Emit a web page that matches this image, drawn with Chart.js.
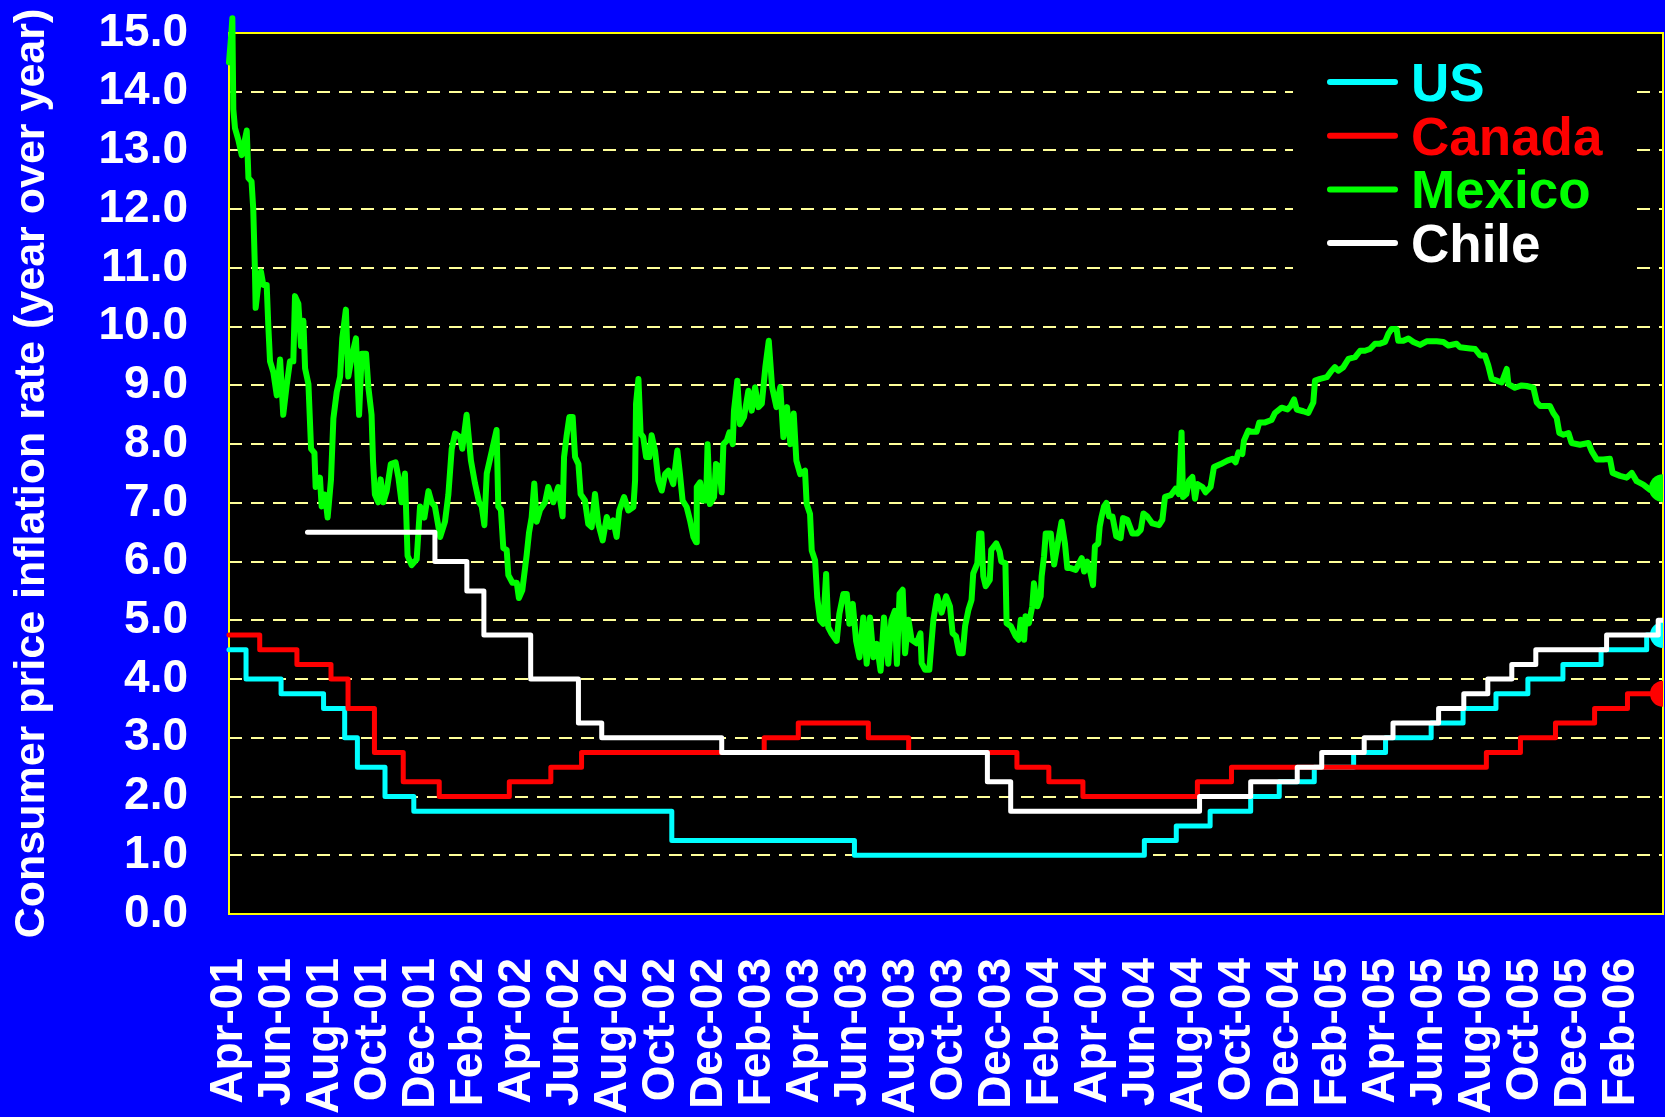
<!DOCTYPE html>
<html>
<head>
<meta charset="utf-8">
<title>Consumer price inflation</title>
<script src="https://cdn.jsdelivr.net/npm/chart.js@4/dist/chart.umd.min.js"></script>
<style>
  html, body { margin: 0; padding: 0; background: #0000FF; }
  canvas { display: block; }
</style>
</head>
<body>
<canvas id="chart" width="1665" height="1117"></canvas>
<script>
// Tick labels along the bottom, one every two months (x = months since axis start)
const tickLabels = ['Apr-01','Jun-01','Aug-01','Oct-01','Dec-01','Feb-02','Apr-02','Jun-02','Aug-02','Oct-02',
  'Dec-02','Feb-03','Apr-03','Jun-03','Aug-03','Oct-03','Dec-03','Feb-04','Apr-04','Jun-04',
  'Aug-04','Oct-04','Dec-04','Feb-05','Apr-05','Jun-05','Aug-05','Oct-05','Dec-05','Feb-06'];
const xMax = 59.75;

// US (step changes: month where the new level starts)
const usMonths = [0, 0.71, 2.17, 3.94, 4.82, 5.35, 6.5, 7.7, 18.45, 26.06, 38.14, 39.47, 40.88, 42.57, 43.76,
  45.22, 46.86, 48.19, 50.09, 51.42, 52.79, 54.12, 55.58, 57.17, 59.07, 59.75];
const usRates = [4.5, 4.0, 3.75, 3.5, 3.0, 2.5, 2.0, 1.75, 1.25, 1.0, 1.25, 1.5, 1.75, 2.0, 2.25,
  2.5, 2.75, 3.0, 3.25, 3.5, 3.75, 4.0, 4.25, 4.5, 4.75, 4.75];

// Canada
const canadaMonths = [0, 1.28, 2.83, 4.25, 4.96, 6.06, 7.26, 8.76, 11.68, 13.41, 14.69, 22.3, 23.72, 26.64,
  28.32, 32.83, 34.16, 35.58, 40.35, 41.77, 52.39, 53.81, 55.27, 56.9, 58.27, 59.75];
const canadaRates = [4.75, 4.5, 4.25, 4.0, 3.5, 2.75, 2.25, 2.0, 2.25, 2.5, 2.75, 3.0, 3.25, 3.0,
  2.75, 2.5, 2.25, 2.0, 2.25, 2.5, 2.75, 3.0, 3.25, 3.5, 3.75, 3.75];

// Chile
const chileMonths = [3.27, 8.58, 9.91, 10.62, 12.57, 14.56, 15.53, 20.53, 31.6, 32.57, 40.44, 42.57, 44.51,
  45.53, 47.3, 48.5, 50.4, 51.45, 52.45, 53.45, 54.45, 57.4, 59.55, 59.75];
const chileRates = [6.5, 6.0, 5.5, 4.75, 4.0, 3.25, 3.0, 2.75, 2.25, 1.75, 2.0, 2.25, 2.5,
  2.75, 3.0, 3.25, 3.5, 3.75, 4.0, 4.25, 4.5, 4.75, 5.0, 5.0];

// Mexico
const mexicoMonths = [0, 0.1, 0.14, 0.18, 0.25, 0.39, 0.53, 0.74, 0.81, 0.94, 1.01, 1.08, 1.11, 1.22, 1.33,
  1.43, 1.57, 1.64, 1.71, 1.85, 1.99, 2.13, 2.26, 2.4, 2.54, 2.68, 2.75, 2.89, 3.0, 3.1,
  3.17, 3.31, 3.42, 3.56, 3.61, 3.79, 3.86, 4.0, 4.11, 4.25, 4.35, 4.49, 4.63, 4.72, 4.87,
  4.97, 5.11, 5.29, 5.42, 5.53, 5.71, 5.81, 5.94, 6.0, 6.08, 6.22, 6.32, 6.43, 6.57, 6.74,
  6.94, 7.06, 7.19, 7.33, 7.44, 7.61, 7.82, 7.96, 8.14, 8.31, 8.44, 8.58, 8.8, 9.0, 9.14,
  9.28, 9.42, 9.63, 9.72, 9.9, 10.08, 10.25, 10.42, 10.53, 10.64, 10.74, 10.9, 11.15, 11.22, 11.33,
  11.43, 11.57, 11.64, 11.81, 11.99, 12.08, 12.22, 12.4, 12.5, 12.61, 12.72, 12.82, 12.96, 13.17, 13.3,
  13.51, 13.72, 13.9, 13.96, 14.07, 14.18, 14.32, 14.42, 14.56, 14.65, 14.83, 14.97, 15.11, 15.25, 15.39,
  15.57, 15.74, 15.88, 16.01, 16.15, 16.26, 16.46, 16.64, 16.85, 16.92, 16.96, 17.06, 17.15, 17.26, 17.38,
  17.51, 17.61, 17.75, 17.89, 18.03, 18.17, 18.31, 18.51, 18.68, 18.79, 18.9, 19.07, 19.21, 19.35, 19.46,
  19.49, 19.63, 19.74, 19.88, 19.94, 20.04, 20.21, 20.29, 20.43, 20.53, 20.6, 20.74, 20.85, 20.99, 21.04,
  21.18, 21.29, 21.46, 21.64, 21.78, 21.92, 22.06, 22.2, 22.35, 22.49, 22.63, 22.81, 22.97, 23.1, 23.25,
  23.39, 23.53, 23.64, 23.8, 24.0, 24.07, 24.21, 24.28, 24.42, 24.51, 24.63, 24.76, 24.88, 24.97, 25.11,
  25.32, 25.43, 25.6, 25.74, 25.85, 25.99, 26.13, 26.27, 26.43, 26.57, 26.71, 26.85, 26.99, 27.15, 27.29,
  27.47, 27.6, 27.74, 27.83, 27.94, 28.07, 28.17, 28.31, 28.44, 28.65, 28.81, 28.86, 29.0, 29.18, 29.28,
  29.35, 29.51, 29.69, 29.88, 30.04, 30.15, 30.29, 30.43, 30.57, 30.67, 30.81, 30.94, 31.01, 31.18, 31.26,
  31.35, 31.43, 31.53, 31.7, 31.76, 31.97, 32.11, 32.18, 32.35, 32.4, 32.58, 32.78, 32.9, 32.99, 33.13,
  33.19, 33.33, 33.47, 33.54, 33.68, 33.82, 33.86, 33.96, 34.03, 34.24, 34.38, 34.51, 34.69, 34.83, 34.93,
  35.07, 35.28, 35.53, 35.63, 35.76, 35.9, 36.0, 36.08, 36.22, 36.28, 36.36, 36.46, 36.56, 36.67, 36.81,
  36.97, 37.15, 37.25, 37.43, 37.64, 37.85, 37.99, 38.1, 38.26, 38.47, 38.75, 38.89, 39.0, 39.24, 39.44,
  39.58, 39.69, 39.75, 39.89, 40.0, 40.14, 40.25, 40.35, 40.56, 40.69, 40.9, 41.04, 41.32, 41.6, 41.81,
  41.94, 42.06, 42.22, 42.29, 42.47, 42.61, 42.82, 42.93, 43.17, 43.44, 43.58, 43.86, 44.1, 44.24, 44.38,
  44.49, 44.76, 44.97, 45.18, 45.25, 45.46, 45.74, 45.94, 46.08, 46.22, 46.43, 46.64, 46.92, 47.13, 47.33,
  47.54, 47.75, 47.96, 48.17, 48.31, 48.44, 48.65, 48.72, 48.93, 49.14, 49.35, 49.63, 49.9, 50.32, 50.6,
  50.81, 51.15, 51.29, 51.71, 51.92, 52.13, 52.33, 52.47, 52.61, 52.82, 53.03, 53.24, 53.31, 53.58, 53.86,
  54.07, 54.35, 54.49, 54.63, 55.04, 55.18, 55.32, 55.43, 55.6, 55.81, 55.94, 56.29, 56.64, 56.78, 56.99,
  57.26, 57.54, 57.65, 57.96, 58.24, 58.45, 58.65, 58.93, 59.21, 59.63, 59.75];
const mexicoRates = [14.5, 15.0, 15.25, 13.7, 13.38, 13.18, 12.92, 13.34, 12.53, 12.47, 12.01, 10.97, 10.32, 10.71, 10.94,
  10.71, 10.71, 10.0, 9.41, 9.22, 8.83, 9.44, 8.5, 8.99, 9.41, 9.41, 10.52, 10.39, 9.67, 10.1,
  9.29, 9.02, 7.92, 7.85, 7.27, 7.43, 6.94, 7.14, 6.75, 7.4, 8.44, 8.89, 9.15, 9.8, 10.29,
  9.15, 9.48, 9.8, 8.5, 9.54, 9.54, 8.96, 8.5, 7.72, 7.14, 7.01, 7.4, 7.01, 7.2, 7.66,
  7.69, 7.43, 7.01, 7.5, 6.1, 5.94, 6.04, 6.94, 6.75, 7.2, 7.01, 6.94, 6.42, 6.68, 7.14,
  7.92, 8.18, 8.12, 7.92, 8.5, 7.72, 7.33, 7.01, 6.94, 6.62, 7.5, 7.79, 8.24, 6.94, 6.88,
  6.23, 6.2, 5.77, 5.64, 5.64, 5.38, 5.51, 6.1, 6.49, 6.75, 7.33, 6.68, 6.88, 7.01, 7.27,
  7.01, 7.27, 6.77, 7.78, 8.15, 8.46, 8.46, 7.78, 7.66, 7.15, 7.04, 6.64, 6.59, 7.15, 6.64,
  6.36, 6.76, 6.59, 6.7, 6.42, 6.87, 7.1, 6.87, 6.93, 7.38, 8.69, 9.11, 8.18, 8.12, 7.78,
  7.78, 8.15, 7.89, 7.38, 7.21, 7.49, 7.55, 7.32, 7.89, 7.49, 7.04, 6.93, 6.7, 6.42, 6.33,
  7.27, 7.35, 7.04, 7.04, 8.0, 6.98, 7.1, 7.66, 7.61, 7.18, 8.0, 8.06, 8.2, 8.0, 8.57,
  9.08, 8.34, 8.46, 8.91, 8.57, 8.97, 8.63, 8.69, 9.32, 9.76, 8.97, 8.63, 8.97, 8.12, 8.63,
  8.0, 8.52, 7.72, 7.49, 7.55, 6.98, 6.81, 6.19, 6.02, 5.39, 5.0, 4.94, 5.79, 4.88, 4.77,
  4.65, 5.11, 5.45, 5.45, 4.94, 5.28, 4.65, 4.37, 5.05, 4.26, 5.05, 4.37, 4.6, 4.14, 5.05,
  4.26, 5.0, 5.16, 4.26, 5.45, 5.52, 4.44, 5.01, 4.67, 4.61, 4.78, 4.27, 4.16, 4.16, 4.67,
  5.01, 5.41, 5.13, 5.41, 5.24, 4.78, 4.73, 4.44, 4.44, 4.9, 5.18, 5.35, 5.8, 5.97, 6.48,
  6.48, 5.75, 5.58, 5.69, 6.2, 6.31, 6.17, 6.0, 5.97, 4.95, 4.9, 4.73, 4.67, 5.01, 4.67,
  5.07, 4.95, 5.24, 5.63, 5.24, 5.41, 5.75, 6.09, 6.48, 6.48, 5.95, 6.26, 6.68, 6.31, 5.89,
  5.89, 5.86, 6.06, 5.83, 6.0, 5.8, 5.6, 6.26, 6.31, 6.6, 6.77, 6.94, 7.0, 6.77, 6.77,
  6.43, 6.4, 6.74, 6.71, 6.48, 6.48, 6.54, 6.82, 6.77, 6.65, 6.62, 6.71, 7.1, 7.13, 7.24,
  7.15, 8.2, 7.1, 7.15, 7.38, 7.44, 7.07, 7.32, 7.27, 7.18, 7.27, 7.61, 7.66, 7.72, 7.75,
  7.69, 7.86, 7.83, 8.06, 8.23, 8.21, 8.21, 8.37, 8.37, 8.41, 8.53, 8.62, 8.59, 8.65, 8.76,
  8.59, 8.56, 8.53, 8.71, 9.08, 9.11, 9.14, 9.25, 9.31, 9.25, 9.31, 9.45, 9.48, 9.59, 9.59,
  9.62, 9.71, 9.71, 9.74, 9.88, 9.96, 9.96, 9.76, 9.76, 9.8, 9.74, 9.69, 9.75, 9.75, 9.74,
  9.68, 9.71, 9.65, 9.63, 9.62, 9.51, 9.51, 9.34, 9.11, 9.08, 9.05, 9.28, 9.02, 8.96, 9.0,
  8.99, 8.96, 8.71, 8.65, 8.65, 8.53, 8.45, 8.19, 8.16, 8.19, 8.02, 7.99, 8.02, 7.88, 7.74,
  7.74, 7.75, 7.51, 7.46, 7.43, 7.51, 7.37, 7.31, 7.22, 7.28, 7.25];

const legendNames = ['US', 'Canada', 'Mexico', 'Chile'];
const legendColors = ['#00FFFF', '#FF0000', '#00FF00', '#FFFFFF'];

const FONT = '"Liberation Sans", Arial, sans-serif';
Chart.defaults.font.family = FONT;

function points(xs, ys) {
  return xs.map((x, i) => ({ x: x, y: ys[i] }));
}

// big dot on the last point only
function endDot(size) {
  return ctx => (ctx.dataIndex === ctx.dataset.data.length - 1 ? size : 0);
}

function series(label, xs, ys, color, opts) {
  return Object.assign({
    label: label,
    data: points(xs, ys),
    borderColor: color,
    backgroundColor: color,
    pointBackgroundColor: color,
    pointBorderWidth: 0,
    pointRadius: 0,
    borderWidth: 5,
    borderJoinStyle: 'round',
    borderCapStyle: 'round',
    tension: 0,
    fill: false,
    clip: { left: 10, top: 40, right: 0, bottom: 10 }
  }, opts);
}

// keep the plot box where the reference has it
function noPadding(scale) {
  scale.paddingTop = 0;
  scale.paddingBottom = 0;
  scale.paddingLeft = 0;
  scale.paddingRight = 0;
}

// Background, plot frame and legend
const framePlugin = {
  id: 'frame',
  beforeDraw(chart) {
    const { ctx, chartArea: a } = chart;
    ctx.save();
    ctx.fillStyle = '#0000FF';
    ctx.fillRect(0, 0, chart.width, chart.height);
    ctx.fillStyle = '#000000';
    ctx.fillRect(a.left, a.top, a.right - a.left, a.bottom - a.top);
    ctx.restore();
  },
  beforeDatasetsDraw(chart) {
    const { ctx, chartArea: a } = chart;
    ctx.save();
    // legend box hides the grid lines under it
    ctx.fillStyle = '#000000';
    ctx.fillRect(1293, 48, 342, 232);
    ctx.strokeStyle = '#FFFF00';
    ctx.lineWidth = 2;
    ctx.strokeRect(a.left, a.top, a.right - a.left, a.bottom - a.top);
    ctx.restore();
  },
  afterDraw(chart) {
    const ctx = chart.ctx;
    ctx.save();
    ctx.font = 'bold 53px ' + FONT;
    ctx.textBaseline = 'alphabetic';
    ctx.textAlign = 'left';
    legendNames.forEach((name, i) => {
      const y = 82 + i * 53.7;
      ctx.strokeStyle = legendColors[i];
      ctx.lineWidth = 6;
      ctx.lineCap = 'round';
      ctx.beginPath();
      ctx.moveTo(1330, y);
      ctx.lineTo(1395, y);
      ctx.stroke();
      ctx.fillStyle = legendColors[i];
      ctx.fillText(name, 1411, y + 19);
    });
    ctx.restore();
  }
};

new Chart(document.getElementById('chart'), {
  type: 'line',
  data: {
    datasets: [
      series('Chile', chileMonths, chileRates, '#FFFFFF', { stepped: true }),
      series('Mexico', mexicoMonths, mexicoRates, '#00FF00', { borderWidth: 6, pointRadius: endDot(14) }),
      series('Canada', canadaMonths, canadaRates, '#FF0000', { stepped: true, pointRadius: endDot(13) }),
      series('US', usMonths, usRates, '#00FFFF', { stepped: true, pointRadius: endDot(13) })
    ]
  },
  options: {
    responsive: false,
    animation: false,
    devicePixelRatio: 1,
    layout: { autoPadding: false, padding: { top: 33, right: 2, left: 0, bottom: 0 } },
    plugins: {
      legend: { display: false },
      tooltip: { enabled: false }
    },
    scales: {
      x: {
        type: 'linear',
        min: 0,
        max: xMax,
        afterFit(scale) { scale.height = 203; noPadding(scale); },
        grid: { display: false, drawTicks: false },
        border: { display: false },
        ticks: {
          stepSize: 2,
          includeBounds: false,
          autoSkip: false,
          minRotation: 90,
          maxRotation: 90,
          padding: 44,
          color: '#FFFFFF',
          font: { size: 46, weight: 'bold' },
          callback: v => (v % 2 === 0 ? (tickLabels[v / 2] || '') : '')
        }
      },
      y: {
        min: 0,
        max: 15,
        afterFit(scale) { scale.width = 229; noPadding(scale); },
        grid: { color: '#FFFF99', lineWidth: 2, drawTicks: false },
        border: { display: false, dash: [13, 9] },
        ticks: {
          stepSize: 1,
          autoSkip: false,
          padding: 41,
          color: '#FFFFFF',
          font: { size: 46, weight: 'bold' },
          callback: v => v.toFixed(1)
        },
        title: {
          display: true,
          text: 'Consumer price inflation rate (year over year)',
          color: '#FFFFFF',
          font: { size: 43, weight: 'bold' },
          padding: { top: 6, bottom: 0 }
        }
      }
    }
  },
  plugins: [framePlugin]
});
</script>
</body>
</html>
